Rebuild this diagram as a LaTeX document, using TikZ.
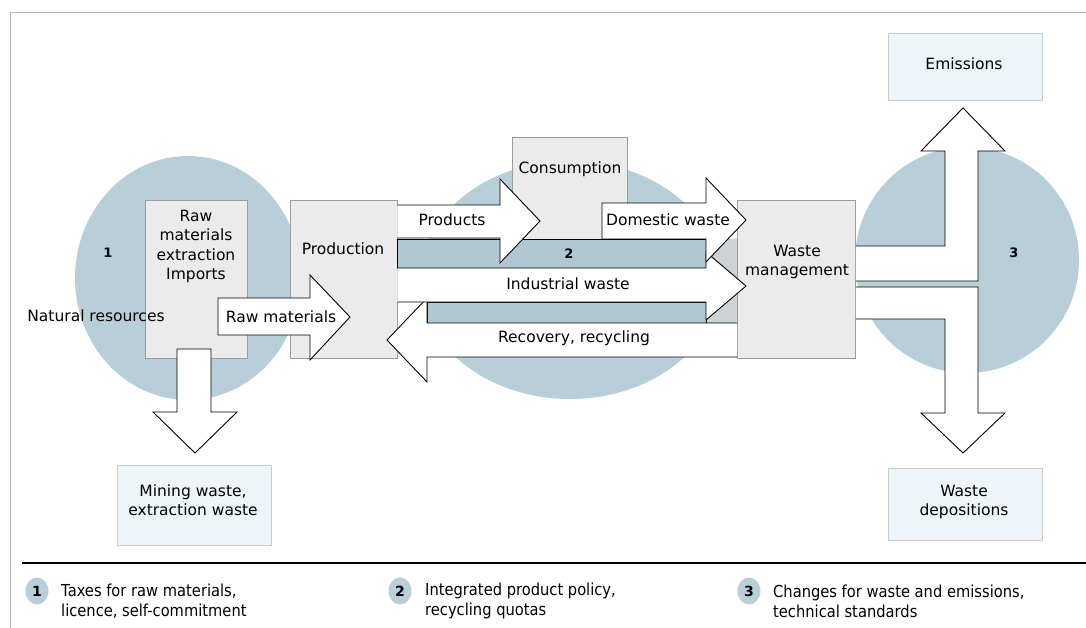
\documentclass[tikz,border=0pt]{standalone}
\usepackage{fontspec}
\setmainfont{DejaVu Sans}
\newfontfamily\legendfont[FakeStretch=0.89]{DejaVu Sans}
\usetikzlibrary{positioning}

\definecolor{poolblue}{HTML}{B8CED8}
\definecolor{bandblue}{HTML}{AEC7D2}
\definecolor{boxgray}{HTML}{EBEBEB}
\definecolor{boxline}{HTML}{9C9C9C}
\definecolor{sinkfill}{HTML}{EEF5F8}
\definecolor{sinkline}{HTML}{C4CDD1}
\definecolor{gapgray}{HTML}{CDD3D5}

\tikzset{
	stage/.style={draw=boxline, fill=boxgray, line width=0.8pt, inner sep=0pt},
	sink/.style={draw=sinkline, fill=sinkfill, line width=0.8pt, inner sep=0pt},
	flow/.style={draw=black, fill=white, line width=0.9pt, line join=miter},
	lbl/.style={font=\fontsize{15.5}{19.5}\selectfont, align=center, inner sep=0pt},
	num/.style={font=\fontsize{13}{15}\selectfont\bfseries, inner sep=0pt},
	legtxt/.style={font=\legendfont\fontsize{16.5}{20}\selectfont, align=left, anchor=west, inner sep=0pt},
	legnum/.style={fill=poolblue, ellipse, minimum width=23pt, minimum height=27pt, inner sep=0pt, font=\fontsize{14}{16}\selectfont\bfseries},
}

\usetikzlibrary{shapes.geometric}

\begin{document}
\begin{tikzpicture}[x=1pt,y=-1pt]
	\useasboundingbox (0,0) rectangle (1086,628);
	% frame
	\draw[gray!55, line width=0.8pt] (1086,12) -- (10,12) -- (10,628);
	
	% the three pools
	\fill[poolblue] (188,278) ellipse [x radius=113, y radius=122];
	\fill[poolblue] (570,280) ellipse [x radius=150, y radius=119];
	\fill[poolblue] (967,260) ellipse [x radius=112, y radius=113];
	
	% stages
	\node[stage, minimum width=102pt, minimum height=158pt] (extract) at (196,279) {};
	\node[stage, minimum width=107pt, minimum height=158pt] (prod) at (343.5,279) {};
	\node[stage, minimum width=115pt, minimum height=102pt] (cons) at (569.5,188) {};
	\node[stage, minimum width=118pt, minimum height=158pt] (wm) at (796.5,279) {};
	\node[sink, minimum width=154pt, minimum height=67pt] (emis) at (965,66.5) {};
	\node[sink, minimum width=154pt, minimum height=72pt] (depo) at (965,504) {};
	\node[sink, minimum width=154pt, minimum height=80pt] (mwaste) at (194,505) {};
	
	% bands between the flows
	\fill[gapgray] (706,239) rectangle (wm.west |- 0,323);
	\draw[fill=bandblue, line width=0.9pt] (prod.east |- 0,239) rectangle (706,268);
	\draw[fill=bandblue, line width=0.9pt] (427,302) rectangle (706,323);
	
	% flows
	\draw[flow] (wm.west |- 0,323) -- (427,323) -- (427,298) -- (387,340) -- (427,382) -- (427,357) -- (wm.west |- 0,357);
	\draw[flow] (prod.east |- 0,268) -- (706,268) -- (706,252) -- (746,286) -- (706,320) -- (706,302) -- (prod.east |- 0,302);
	\draw[flow] (prod.east |- 0,205) -- (500,205) -- (500,179) -- (540,221) -- (500,263) -- (500,238) -- (prod.east |- 0,238);
	\draw[flow] (602,203) -- (706,203) -- (706,178) -- (746,220) -- (706,262) -- (706,239) -- (602,239) -- cycle;
	\draw[flow] (218,298) -- (310,298) -- (310,275) -- (350,317) -- (310,360) -- (310,335) -- (218,335) -- cycle;
	\draw[flow] (177,349) -- (177,412) -- (153,412) -- (195,453) -- (237,412) -- (211,412) -- (211,349) -- cycle;
	\draw[flow] (wm.east |- 0,246) -- (945,246) -- (945,151) -- (921,151) -- (963,108) -- (1005,151) -- (978,151) -- (978,281) -- (wm.east |- 0,281);
	\draw[flow] (wm.east |- 0,287) -- (978,287) -- (978,413) -- (1005,413) -- (963,453) -- (921,413) -- (945,413) -- (945,319) -- (wm.east |- 0,319);
	
	% labels
	\node[lbl] (extracttxt) at (196,246.5) {Raw\\materials\\extraction\\Imports};
	\node[lbl] (natres) at (96,316) {Natural resources};
	\node[lbl] (rawflow) at (281,317) {Raw materials};
	\node[lbl] (prodtxt) at (343,249) {Production};
	\node[lbl] (constxt) at (570,169) {Consumption};
	\node[lbl] (products) at (452,220) {Products};
	\node[lbl] (domestic) at (668,220) {Domestic waste};
	\node[lbl] (industrial) at (568,284) {Industrial waste};
	\node[lbl] (recovery) at (574,338) {Recovery, recycling};
	\node[lbl] (wmtxt) at (797,262) {Waste\\management};
	\node[lbl] (emistxt) at (964,64) {Emissions};
	\node[lbl] (depotxt) at (964,502) {Waste\\depositions};
	\node[lbl] (mwastetxt) at (193,500) {Mining waste,\\extraction waste};
	\node[num] (one) at (108,253) {1};
	\node[num] (two) at (569,254) {2};
	\node[num] (three) at (1014,253) {3};
	
	% legend
	\draw[line width=1.3pt] (22,563) -- (1086,563);
	\node[legnum] (leg1) at (37,591) {1};
	\node[legnum] (leg2) at (400,591) {2};
	\node[legnum] (leg3) at (749,591) {3};
	\node[legtxt] (leg1txt) at (61,601) {Taxes for raw materials,\\licence, self-commitment};
	\node[legtxt] (leg2txt) at (425,601) {Integrated product policy,\\recycling quotas};
	\node[legtxt] (leg3txt) at (773,601) {Changes for waste and emissions,\\technical standards};
\end{tikzpicture}
\end{document}
